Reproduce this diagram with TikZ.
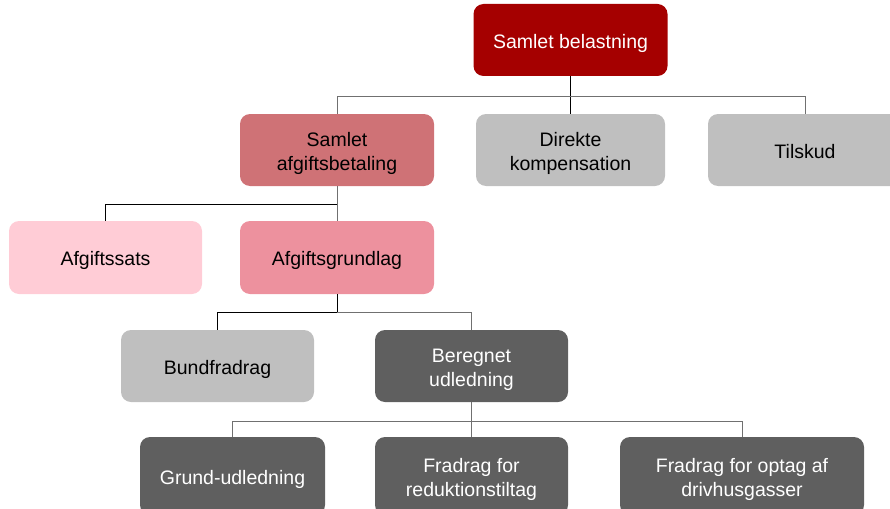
\documentclass[tikz,border=0pt]{standalone}
\usepackage{fontspec}
\setmainfont{Liberation Sans}
\definecolor{topred}{HTML}{A50000}
\definecolor{midred}{HTML}{CF7276}
\definecolor{lightgrey}{HTML}{BFBFBF}
\definecolor{lightpink}{HTML}{FFCCD6}
\definecolor{midpink}{HTML}{ED919E}
\definecolor{darkgrey}{HTML}{5F5F5F}
\definecolor{lnGrey}{HTML}{707070}
\begin{document}
\begin{tikzpicture}[x=1pt,y=-1pt,
  box/.style={rounded corners=10pt, minimum width=194pt, minimum height=72pt, inner sep=0pt,
    align=center, font=\fontsize{19.5}{24}\selectfont},
  oneline/.style={text height=16.6pt, text depth=0pt},
  twoline/.style={text height=40pt, text depth=0pt},
  wtext/.style={text=white},
  conn/.style={draw=black, line width=1pt},
  conng/.style={draw=lnGrey, line width=1pt}]
\useasboundingbox (0,0) rectangle (890,508);

\node[box, oneline, fill=topred, wtext] (top) at (570.5,40) {Samlet belastning};

\node[box, twoline, fill=midred] (saf) at (337,150) {Samlet\\afgiftsbetaling};
\node[box, twoline, fill=lightgrey, minimum width=189pt] (dk) at (570.5,150) {Direkte\\kompensation};
\node[box, oneline, fill=lightgrey] (ti) at (805,150) {Tilskud};

\node[box, oneline, fill=lightpink, minimum width=193pt, minimum height=73pt] (as) at (105.5,257.5) {Afgiftssats};
\node[box, oneline, fill=midpink, minimum height=73pt] (ag) at (337,257.5) {Afgiftsgrundlag};

\node[box, oneline, fill=lightgrey, minimum width=193pt] (bf) at (217.5,366) {Bundfradrag};
\node[box, twoline, fill=darkgrey, wtext, minimum width=193pt] (bu) at (471.5,366) {Beregnet\\udledning};

\node[box, oneline, fill=darkgrey, wtext, minimum width=185pt, minimum height=78pt] (gu) at (232.5,476) {Grund-udledning};
\node[box, twoline, fill=darkgrey, wtext, minimum width=193pt, minimum height=78pt] (fr) at (471.5,476) {Fradrag for\\reduktionstiltag};
\node[box, twoline, fill=darkgrey, wtext, minimum width=244pt, minimum height=78pt] (fo) at (742,476) {Fradrag for optag af\\drivhusgasser};

% junctions
\coordinate (j1) at (top.south |- 0,97);
\coordinate (j2) at (saf.south |- 0,204);
\coordinate (j3) at (ag.south |- 0,312);
\coordinate (j4) at (bu.south |- 0,421);

% level 1 -> 2
\draw[conn] (top.south) -- (dk.north);
\draw[conng] (j1) -| (saf.north);
\draw[conng] (j1) -| (ti.north);
% level 2 -> 3
\draw[conng] (saf.south) -- (ag.north);
\draw[conn] (j2) -| (as.north);
% level 3 -> 4
\draw[conn] (ag.south) -- (j3);
\draw[conn] (j3) -| (bf.north);
\draw[conng] (j3) -| (bu.north);
% level 4 -> 5
\draw[conng] (bu.south) -- (fr.north);
\draw[conng] (j4) -| (gu.north);
\draw[conng] (j4) -| (fo.north);
\end{tikzpicture}
\end{document}
